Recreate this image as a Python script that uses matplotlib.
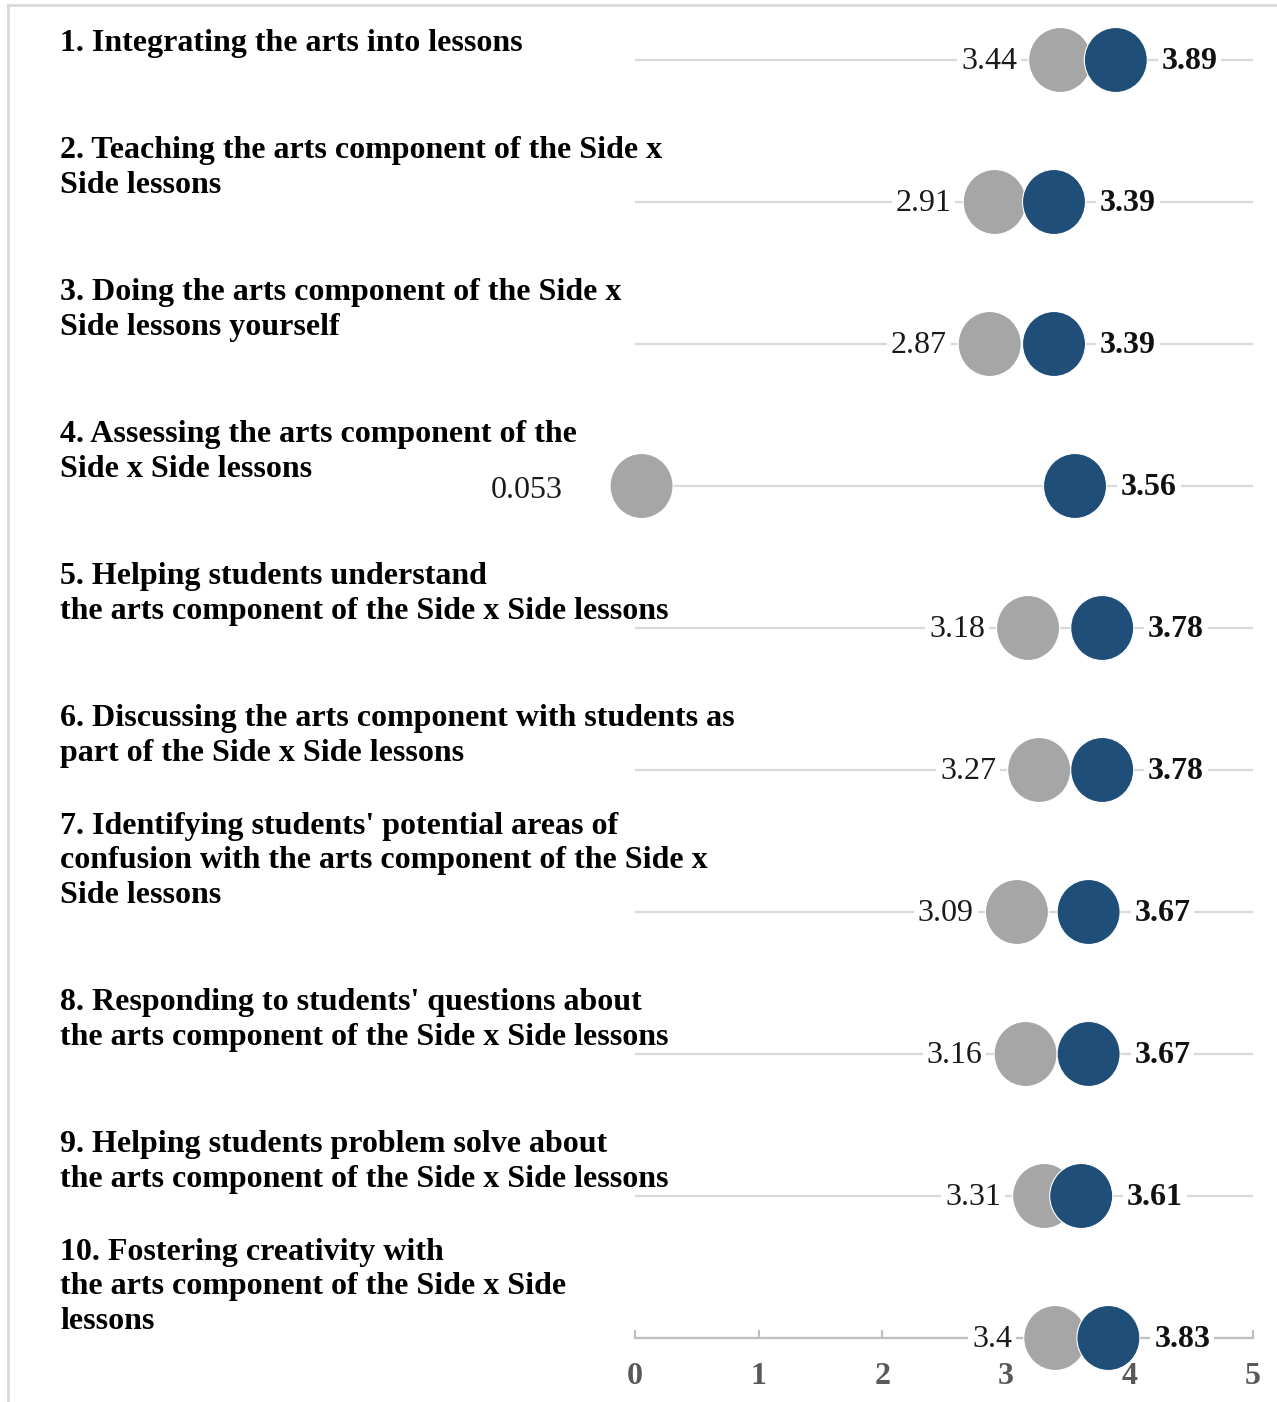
import matplotlib
matplotlib.use("Agg")
import matplotlib.pyplot as plt
from matplotlib.patches import Ellipse
from matplotlib.lines import Line2D
import matplotlib.transforms as mtransforms

plt.rcParams['font.family'] = ['Liberation Serif', 'DejaVu Serif']

items = [
    "1. Integrating the arts into lessons",
    "2. Teaching the arts component of the Side x\nSide lessons",
    "3. Doing the arts component of the Side x\nSide lessons yourself",
    "4. Assessing the arts component of the\nSide x Side lessons",
    "5. Helping students understand\nthe arts component of the Side x Side lessons",
    "6. Discussing the arts component with students as\npart of the Side x Side lessons",
    "7. Identifying students' potential areas of\nconfusion with the arts component of the Side x\nSide lessons",
    "8. Responding to students' questions about\nthe arts component of the Side x Side lessons",
    "9. Helping students problem solve about\nthe arts component of the Side x Side lessons",
    "10. Fostering creativity with\nthe arts component of the Side x Side\nlessons",
]
pre_scores = [3.44, 2.91, 2.87, 0.053, 3.18, 3.27, 3.09, 3.16, 3.31, 3.4]
post_scores = [3.89, 3.39, 3.39, 3.56, 3.78, 3.78, 3.67, 3.67, 3.61, 3.83]
x_ticks = [0, 1, 2, 3, 4, 5]

GRAY = '#a6a6a6'
BLUE = '#1f4e79'
LINE = '#d9d9d9'

W, H = 1277, 1402
fig = plt.figure(figsize=(W / 100, H / 100), dpi=100)
ax = fig.add_axes([635 / W, 0, 618 / W, 1])

row_px = 142
top_px = 60
n = len(items)
ax.set_xlim(0, 5)
ax.set_ylim((H - top_px) / row_px, -top_px / row_px)

rows = list(range(n))
ax.hlines(rows, 0, 5, color=LINE, lw=1.6, zorder=1)

ew = 63 / 618 * 5
eh = 65 / row_px
for i in rows:
    ax.add_patch(Ellipse((pre_scores[i], i), ew, eh, facecolor=GRAY,
                         edgecolor='white', lw=0.8, zorder=3, clip_on=False))
    ax.add_patch(Ellipse((post_scores[i], i), ew, eh, facecolor=BLUE,
                         edgecolor='white', lw=0.8, zorder=4, clip_on=False))
    # label near the axis start sits further out, past the axis edge
    if pre_scores[i] > 0.5:
        dx, dy = -31, -1
    else:
        dx, dy = -57, -3
    ax.annotate(f"{pre_scores[i]:g}", (pre_scores[i], i), xytext=(dx, dy),
                textcoords='offset points', ha='right', va='center',
                fontsize=23, color='#1a1a1a', zorder=5,
                bbox=dict(boxstyle='square,pad=0.12', fc='white', ec='none'))
    ax.annotate(f"{post_scores[i]:g}", (post_scores[i], i), xytext=(33, -1),
                textcoords='offset points', ha='left', va='center',
                fontsize=23, fontweight='bold', color='#111111', zorder=5,
                bbox=dict(boxstyle='square,pad=0.12', fc='white', ec='none'))

# question labels on the left, above each row line, one text per line
trans = mtransforms.blended_transform_factory(fig.transFigure, ax.transData)
pitch = 34.5 * 0.72   # line pitch in points
for i, lab in enumerate(items):
    lines = lab.split("\n")
    for j, line in enumerate(lines):
        up = 6.5 + (len(lines) - 1 - j) * pitch
        ax.annotate(line, (60 / W, i), xycoords=trans, xytext=(0, up),
                    textcoords='offset points', ha='left', va='baseline',
                    fontsize=23, fontweight='bold', color='black',
                    annotation_clip=False)

for s in ['top', 'left', 'right']:
    ax.spines[s].set_visible(False)
ax.spines['bottom'].set_position(('data', n - 1))
ax.spines['bottom'].set_color('#bfbfbf')
ax.spines['bottom'].set_linewidth(1.6)
ax.set_yticks([])
ax.set_xticks(x_ticks)
ax.set_xticklabels([str(t) for t in x_ticks], fontweight='bold')
ax.tick_params(axis='x', direction='in', length=6, width=1.5, color='#bfbfbf',
               labelsize=23, labelcolor='#595959', pad=17)
ax.patch.set_visible(False)

# light frame on top and left
fig.add_artist(Line2D([8 / W, 8 / W], [0, 1 - 5 / H], color=LINE, lw=2))
fig.add_artist(Line2D([8 / W, 1], [1 - 5 / H, 1 - 5 / H], color=LINE, lw=2))

fig.savefig('out.png', dpi=100)
